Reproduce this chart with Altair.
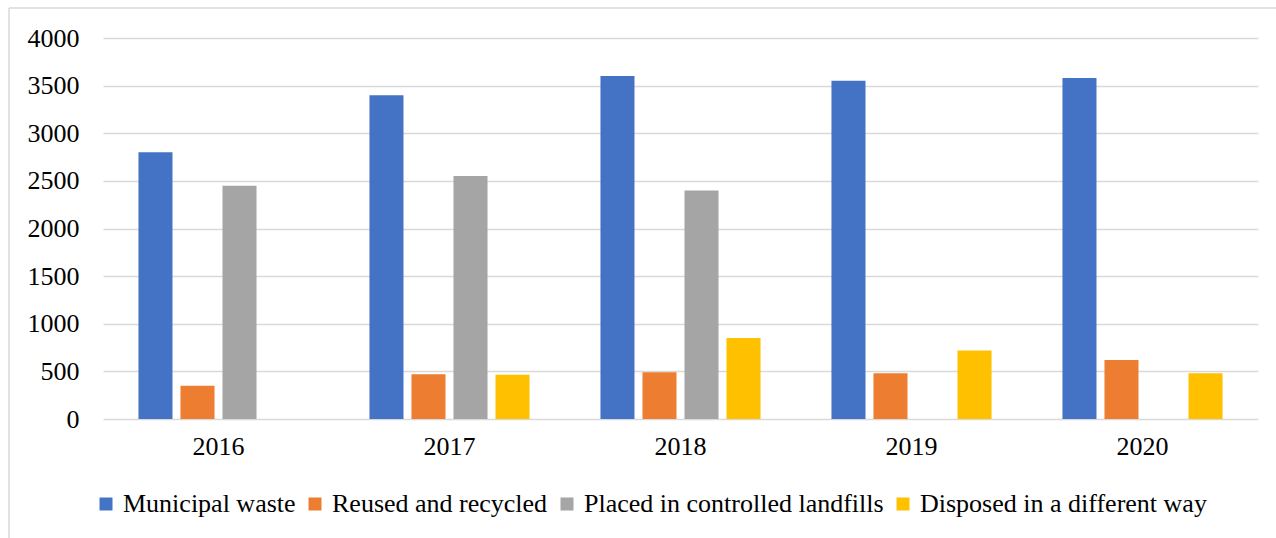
import altair as alt
import pandas as pd

years = ["2016", "2017", "2018", "2019", "2020"]
series = ["Municipal waste", "Reused and recycled", "Placed in controlled landfills", "Disposed in a different way"]
municipal = [2800, 3400, 3600, 3550, 3580]
reused = [350, 470, 490, 480, 620]
landfills = [2450, 2550, 2400, None, None]
disposed = [None, 465, 850, 720, 480]
colors = ["#4472C4", "#ED7D31", "#A5A5A5", "#FFC000"]
y_ticks = [0, 500, 1000, 1500, 2000, 2500, 3000, 3500, 4000]

rows = []
for s, vals in zip(series, [municipal, reused, landfills, disposed]):
    for y, v in zip(years, vals):
        if v is not None:
            rows.append({"year": y, "series": s, "value": v})
df = pd.DataFrame(rows)

FONT = "Liberation Serif"

bars = alt.Chart(df).mark_bar().encode(
    x=alt.X("year:N", sort=years, title=None,
            scale=alt.Scale(paddingInner=0.307, paddingOuter=0.1535),
            axis=alt.Axis(labelAngle=0, labelFontSize=26, labelFont=FONT, labelColor="black",
                          domain=False, ticks=False, labelPadding=14)),
    xOffset=alt.XOffset("series:N", sort=series,
                        scale=alt.Scale(paddingInner=0.19, paddingOuter=0)),
    y=alt.Y("value:Q", title=None,
            scale=alt.Scale(domain=[0, 4000], nice=False),
            axis=alt.Axis(values=y_ticks, format="d", labelFontSize=26, labelFont=FONT,
                          labelColor="black", domain=False, ticks=False, labelPadding=24,
                          grid=True, gridColor="#D9D9D9", gridWidth=1.5)),
    color=alt.Color("series:N", sort=series,
                    scale=alt.Scale(domain=series, range=colors),
                    legend=alt.Legend(title=None, orient="none", direction="horizontal",
                                      legendX=-10, legendY=453,
                                      symbolType="square", symbolSize=169, symbolStrokeWidth=0,
                                      labelFontSize=26, labelFont=FONT, labelColor="black",
                                      labelOffset=4, columnPadding=6, labelLimit=600)),
)

border_df = pd.DataFrame({"a": [0]})
left_border = alt.Chart(border_df).mark_rule(color="#D9D9D9", strokeWidth=1.5).encode(
    x=alt.value(-94), y=alt.value(-30), y2=alt.value(520))
top_border = alt.Chart(border_df).mark_rule(color="#D9D9D9", strokeWidth=1.5).encode(
    x=alt.value(-94), x2=alt.value(1190), y=alt.value(-30))

chart = alt.layer(bars, left_border, top_border).properties(
    width=1155, height=381,
    autosize=alt.AutoSizeParams(type="none"),
    padding={"left": 103, "top": 38, "right": 18, "bottom": 119},
    background="white",
).configure_view(stroke=None)

chart.save("out.html", embed_options={"renderer": "svg", "actions": False})
